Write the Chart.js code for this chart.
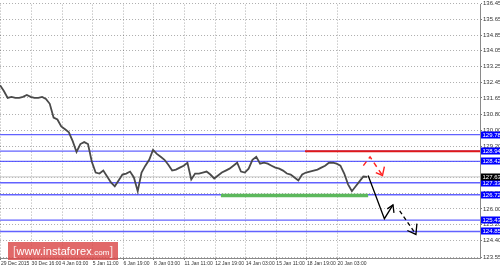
<!DOCTYPE html>
<html>
<head>
<meta charset="utf-8">
<script src="https://cdn.jsdelivr.net/npm/chart.js@4.4.1/dist/chart.umd.min.js"></script>
<style>
  body { margin: 0; background: #fff; }
  #wrap { position: relative; width: 500px; height: 268px; }
  .wm {
    position: absolute; left: 8px; top: 242px; width: 110px; height: 18px;
    background: rgba(218, 72, 72, 0.82); color: #fff;
    display: flex; align-items: center; justify-content: space-between;
    padding: 0 5px; box-sizing: border-box;
    font-family: "Liberation Sans", Arial, sans-serif;
  }
  .wm .br { font-size: 12px; font-weight: 300; opacity: 0.75; }
  .wm .u { font-size: 11px; letter-spacing: 0.1px; }
  .wm .u small { font-size: 8px; }
</style>
</head>
<body>
<div id="wrap">
  <canvas id="chart" width="500" height="268"></canvas>
  <div class="wm"><span class="br">[</span><span class="u">www.instaforex<small>.com</small></span><span class="br">]</span></div>
</div>
<script>
// time axis: one unit = one H1 bar
const timeLabels = ["29 Dec 2015", "30 Dec 16:00", "4 Jan 03:00", "5 Jan 11:00", "6 Jan 19:00", "8 Jan 03:00",
  "11 Jan 11:00", "12 Jan 19:00", "14 Jan 03:00", "15 Jan 11:00", "18 Jan 19:00", "20 Jan 03:00"];
const timeLabelBars = [1, 33, 65, 97, 129, 161, 193, 225, 257, 289, 321, 353];
const barsShown = 502;
const barStep = 4;

const priceTicks = [136.45, 135.65, 134.85, 134.05, 133.25, 132.45, 131.65, 130.80, 130.00, 129.20,
  128.40, 127.60, 126.80, 126.00, 125.20, 124.40, 123.55];
const priceMin = 123.50;
const priceMax = 136.40;

// price, sampled every 4 bars
const closePrices = [
  132.30, 132.00, 131.65, 131.70, 131.65, 131.65, 131.70, 131.80, 131.70, 131.65,
  131.65, 131.70, 131.60, 131.35, 130.65, 130.55, 130.20, 130.05, 129.90, 129.45,
  128.90, 129.30, 129.40, 129.30, 128.40, 127.85, 127.80, 127.95, 127.65, 127.35,
  127.15, 127.45, 127.75, 127.80, 127.90, 127.60, 126.90, 127.85, 128.20, 128.50,
  129.00, 128.80, 128.65, 128.50, 128.25, 127.95, 128.00, 128.10, 128.20, 128.35,
  127.50, 127.80, 127.80, 127.85, 127.90, 127.75, 127.55, 127.70, 127.85, 127.95,
  128.05, 128.20, 128.35, 127.90, 127.85, 128.05, 128.50, 128.65, 128.30, 128.35,
  128.30, 128.20, 128.10, 128.05, 127.95, 127.80, 127.75, 127.60, 127.45, 127.75,
  127.85, 127.90, 127.95, 128.00, 128.10, 128.20, 128.35, 128.35, 128.30, 128.20,
  127.80, 127.25, 126.90, 127.15, 127.40, 127.65, 127.63
];
const lastPrice = 127.63;

// horizontal levels
const levelLines = [129.78, 128.94, 128.42, 127.33, 126.72, 125.43, 124.85];
const resistanceLevel = 128.94;
const resistanceBars = [319, 502];
const supportLevel = 126.68;
const supportBars = [231, 385];

// drawn forecast arrows [bar, price]
const bearPath = [[385, 127.70], [402, 125.50], [411, 126.20]];
const bearHead = [[405, 126.00], [411, 126.20], [412, 125.80]];
const bearDashed = [[418, 125.90], [435, 124.70]];
const bearDashedHead = [[426, 124.90], [435, 124.70], [436, 125.25]];
const redPath = [[380, 128.20], [387, 128.65], [400, 127.70]];
const redHead = [[393, 127.85], [400, 127.70], [402, 128.15]];

const pts = arr => arr.map(([x, y]) => ({ x, y }));
const hLine = (v, a, b) => [{ x: a, y: v }, { x: b, y: v }];
const lineDs = (data, color, width, dash) => ({
  data, borderColor: color, borderWidth: width, borderDash: dash || [],
  pointRadius: 0, tension: 0, fill: false
});

const datasets = [
  lineDs(pts(redPath), '#ff2020', 1.4, [5, 4]),
  lineDs(pts(redHead), '#ff2020', 1.4),
  lineDs(pts(bearPath), '#000', 1.3),
  lineDs(pts(bearHead), '#000', 1.3),
  lineDs(pts(bearDashed), '#000', 1.3, [4, 3]),
  lineDs(pts(bearDashedHead), '#000', 1.3),
  lineDs(hLine(resistanceLevel, resistanceBars[0], resistanceBars[1]), '#e01818', 2),
  lineDs(hLine(supportLevel, supportBars[0], supportBars[1]), '#5cb85c', 3.5),
  lineDs(closePrices.map((v, i) => ({ x: i * barStep, y: v })), '#4a4a4a', 1.8)
];
levelLines.forEach(v => datasets.push(lineDs(hLine(v, 0, barsShown), 'rgba(70,70,255,0.85)', 1.4)));
datasets.push(lineDs(hLine(lastPrice, 0, barsShown), '#c8c8c8', 1));

const levelBoxes = {
  id: 'levelBoxes',
  afterDraw(chart) {
    const { ctx, scales: { y } } = chart;
    ctx.save();
    ctx.font = '6px "Liberation Sans"';
    ctx.textBaseline = 'middle';
    const box = (v, bg) => {
      const py = Math.round(y.getPixelForValue(v));
      ctx.fillStyle = bg;
      ctx.fillRect(y.left + 1, py - 3.5, 19, 7);
      ctx.fillStyle = '#fff';
      ctx.fillText(v.toFixed(2), y.left + 2.5, py + 0.5);
    };
    levelLines.forEach(v => box(v, '#0000ff'));
    box(lastPrice, '#000');
    ctx.restore();
  }
};

new Chart(document.getElementById('chart'), {
  type: 'line',
  data: { datasets },
  options: {
    responsive: false,
    animation: false,
    devicePixelRatio: 1,
    layout: { padding: 0, autoPadding: false },
    plugins: { legend: { display: false }, tooltip: { enabled: false } },
    scales: {
      x: {
        type: 'linear',
        min: 0,
        max: barsShown,
        afterBuildTicks: s => { s.ticks = timeLabelBars.map(v => ({ value: v })); },
        afterFit: s => { s.height = 10; },
        grid: { color: 'rgba(0,0,0,0.32)', tickLength: 2, tickColor: '#777' },
        border: { display: true, color: '#8a8a8a', dash: [1, 2] },
        ticks: {
          autoSkip: false, maxRotation: 0, align: 'start', padding: 1,
          color: '#333', font: { family: 'Liberation Sans', size: 5 },
          callback: (v, i) => timeLabels[i]
        }
      },
      y: {
        position: 'right',
        min: priceMin,
        max: priceMax,
        afterBuildTicks: s => { s.ticks = priceTicks.map(v => ({ value: v })); },
        afterFit: s => { s.width = 20; },
        grid: { color: 'rgba(0,0,0,0.32)', tickLength: 2, tickColor: '#777' },
        border: { display: true, color: '#8a8a8a', dash: [1, 2] },
        ticks: {
          padding: 1, color: '#333', font: { family: 'Liberation Sans', size: 6 },
          callback: v => v.toFixed(2)
        }
      }
    }
  },
  plugins: [levelBoxes]
});
</script>
</body>
</html>
